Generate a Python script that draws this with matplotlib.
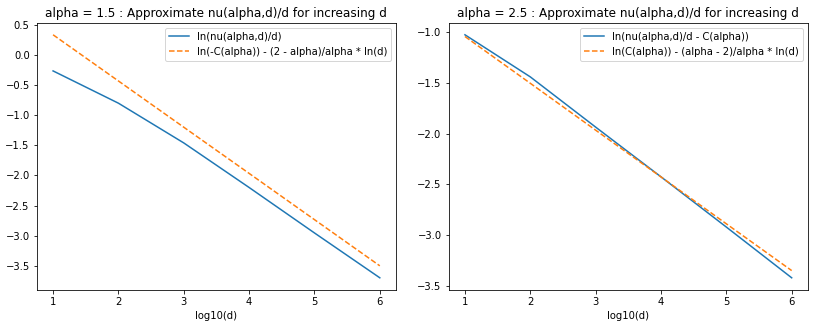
import numpy as np
import matplotlib.pyplot as plt

log_d = [1, 2, 3, 4, 5, 6]

# alpha = 1.5
nu_15 = [-0.264, -0.80, -1.46, -2.20, -2.955, -3.70]
approx_15 = [0.336, -0.431, -1.199, -1.966, -2.734, -3.501]

# alpha = 2.5
nu_25 = [-1.029, -1.443, -1.937, -2.426, -2.920, -3.419]
approx_25 = [-1.046, -1.506, -1.967, -2.427, -2.888, -3.348]

fig, (ax1, ax2) = plt.subplots(1, 2, figsize=(818 / 72, 328 / 72), dpi=72)
fig.subplots_adjust(left=0.0449, right=0.9878, top=0.931, bottom=0.116, wspace=0.146)

ax1.plot(log_d, nu_15, label="ln(nu(alpha,d)/d)")
ax1.plot(log_d, approx_15, "--", label="ln(-C(alpha)) - (2 - alpha)/alpha * ln(d)")
ax1.set_title("alpha = 1.5 : Approximate nu(alpha,d)/d for increasing d")
ax1.set_xlabel("log10(d)")
ax1.legend()

ax2.plot(log_d, nu_25, label="ln(nu(alpha,d)/d - C(alpha))")
ax2.plot(log_d, approx_25, "--", label="ln(C(alpha)) - (alpha - 2)/alpha * ln(d)")
ax2.set_title("alpha = 2.5 : Approximate nu(alpha,d)/d for increasing d")
ax2.set_xlabel("log10(d)")
ax2.legend()

fig.savefig("out.png")
